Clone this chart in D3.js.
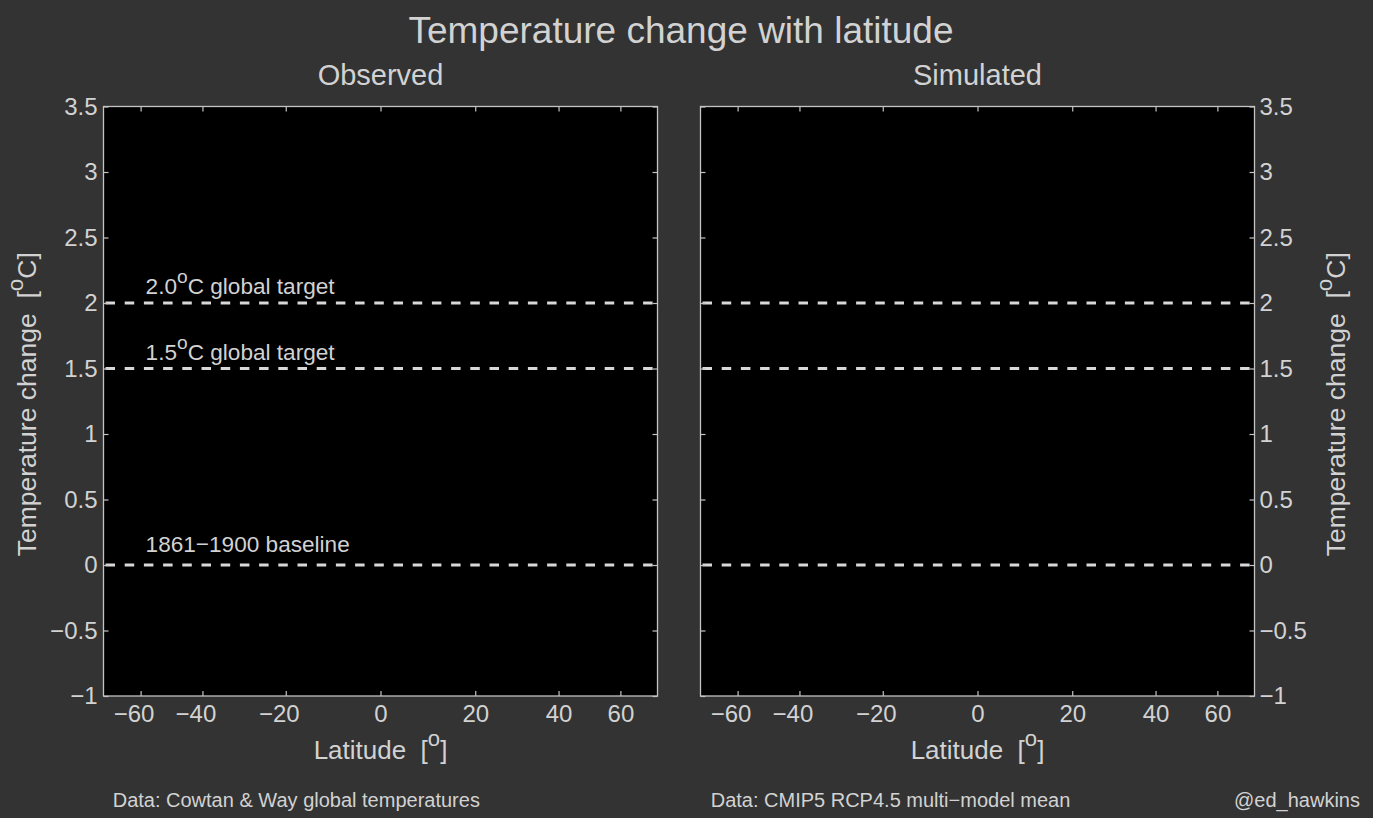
<!DOCTYPE html>
<html>
<head>
<meta charset="utf-8">
<script src="https://cdn.jsdelivr.net/npm/d3@7/dist/d3.min.js"></script>
<style>
  html, body { margin: 0; padding: 0; background: #333333; }
  svg { display: block; }
  text { font-family: "Liberation Sans", Arial, Helvetica, sans-serif; fill: #d2d2d2; white-space: pre; }
</style>
</head>
<body>
<svg id="chart" width="1373" height="818"></svg>
<script>
// ---------------- data ----------------
const chartTitle = "Temperature change with latitude";
const panelTitles = ["Observed", "Simulated"];
const footerTexts = ["Data: Cowtan & Way global temperatures", "Data: CMIP5 RCP4.5 multi\u2212model mean"];
const credit = "@ed_hawkins";
const xLabel = "Latitude  [^o]";
const yLabel = "Temperature change  [^oC]";
const xDomain = [-90, 90];          // latitude, area-weighted (sine) axis
const xTicks = [-60, -40, -20, 0, 20, 40, 60];
const xTickLabels = ["\u221260", "\u221240", "\u221220", "0", "20", "40", "60"];
const yDomain = [-1, 3.5];
const yTicks = [-1, -0.5, 0, 0.5, 1, 1.5, 2, 2.5, 3, 3.5];
const yTickLabels = ["\u22121", "\u22120.5", "0", "0.5", "1", "1.5", "2", "2.5", "3", "3.5"];
const refValues = [0, 1.5, 2.0];
const refLabels = ["1861\u22121900 baseline", "1.5^oC global target", "2.0^oC global target"];
const refLabelLat = -58;

// ---------------- layout ----------------
const svg = d3.select("#chart");
const W = 1373, H = 818;
svg.append("rect").attr("width", W).attr("height", H).attr("fill", "#333333");

const plotTop = 106.5, plotBottom = 696;
const panelX = [[103.5, 657.5], [700.5, 1254.5]];
const axisColor = "#c4c4c4";
const textColor = "#d2d2d2";

const sinDeg = d => Math.sin(d * Math.PI / 180);
const y = d3.scaleLinear().domain(yDomain).range([plotBottom, plotTop]);

// TeX-like text helper: "^o" -> raised superscript
function texText(sel, str, size) {
  const parts = str.split(/\^(\w)/);
  const supSize = size * 0.85;
  const shift = size * 0.5;
  let pending = 0;
  parts.forEach((p, i) => {
    if (p === "") return;
    if (i % 2 === 1) {
      sel.append("tspan").attr("font-size", supSize).attr("dy", pending - shift).text(p);
      pending = shift;
    } else {
      const ts = sel.append("tspan").text(p);
      if (pending) ts.attr("dy", pending);
      pending = 0;
    }
  });
  return sel;
}

// measure minus width for matlab-like centring of negative tick labels
const tmp = svg.append("text").attr("font-size", 24).text("\u2212");
const minusW = tmp.node().getComputedTextLength();
tmp.remove();

// title
svg.append("text").attr("x", 681).attr("y", 43).attr("text-anchor", "middle")
  .attr("font-size", 37).text(chartTitle);

panelTitles.forEach((title, pi) => {
  const [x0, x1] = panelX[pi];
  const xs = d3.scaleLinear().domain(xDomain.map(sinDeg)).range([x0, x1]);
  const g = svg.append("g");

  // plot background
  g.append("rect").attr("x", x0).attr("y", plotTop).attr("width", x1 - x0).attr("height", plotBottom - plotTop)
    .attr("fill", "#000000");

  // reference dashed lines
  g.selectAll("line.ref").data(refValues).join("line").attr("class", "ref")
    .attr("x1", x0 + 2).attr("x2", x1 - 1)
    .attr("y1", d => y(d)).attr("y2", d => y(d))
    .attr("stroke", "#d8d8d8").attr("stroke-width", 3).attr("stroke-dasharray", "9.5,9.7");

  // reference labels (only on the observed panel)
  if (pi === 0) {
    refValues.forEach((v, i) => {
      const t = g.append("text").attr("x", xs(sinDeg(refLabelLat))).attr("y", 0).attr("font-size", 22.6);
      texText(t, refLabels[i], 22.6);
      const bb = t.node().getBBox();
      const centre = y(v + 0.155);
      t.attr("y", centre - (bb.y + bb.height / 2));
    });
  }

  // axes
  const fmtX = d => xTickLabels[xTicks.findIndex(t => Math.abs(sinDeg(t) - d) < 1e-9)];
  const fmtY = d => yTickLabels[yTicks.indexOf(d)];
  const tickVals = xTicks.map(sinDeg);

  const axB = g.append("g").attr("transform", `translate(0,${plotBottom})`)
    .call(d3.axisBottom(xs).tickValues(tickVals).tickFormat(fmtX).tickSizeInner(-5).tickSizeOuter(0).tickPadding(9));
  const axT = g.append("g").attr("transform", `translate(0,${plotTop})`)
    .call(d3.axisTop(xs).tickValues(tickVals).tickFormat("").tickSizeInner(-5).tickSizeOuter(0));
  const axL = g.append("g").attr("transform", `translate(${x0},0)`)
    .call(d3.axisLeft(y).tickValues(yTicks).tickFormat(pi === 0 ? fmtY : "").tickSizeInner(-5).tickSizeOuter(0).tickPadding(6));
  const axR = g.append("g").attr("transform", `translate(${x1},0)`)
    .call(d3.axisRight(y).tickValues(yTicks).tickFormat(pi === 1 ? fmtY : "").tickSizeInner(-5).tickSizeOuter(0).tickPadding(5));

  [axB, axT, axL, axR].forEach(a => {
    a.select(".domain").remove();
    a.selectAll(".tick line").attr("stroke", axisColor).attr("stroke-width", 1.2);
    a.selectAll(".tick text").filter(function () { return !this.textContent; }).remove();
    a.selectAll(".tick text").attr("fill", textColor).attr("font-size", 24)
      .attr("font-family", '"Liberation Sans", Arial, Helvetica, sans-serif');
  });
  axB.selectAll(".tick text").attr("dy", "0.71em")
    .attr("dx", function () { return this.textContent.startsWith("\u2212") ? -minusW / 2 : 0; });

  // box
  g.append("rect").attr("x", x0).attr("y", plotTop).attr("width", x1 - x0).attr("height", plotBottom - plotTop)
    .attr("fill", "none").attr("stroke", axisColor).attr("stroke-width", 1.3);

  // panel title
  g.append("text").attr("x", (x0 + x1) / 2).attr("y", 85).attr("text-anchor", "middle")
    .attr("font-size", 29).text(title);

  // x label
  texText(g.append("text").attr("x", (x0 + x1) / 2).attr("y", 759).attr("text-anchor", "middle")
    .attr("font-size", 26), xLabel, 26);

  // y label
  const yx = pi === 0 ? 36 : 1345;
  texText(g.append("text").attr("transform", `translate(${yx},${(plotTop + plotBottom) / 2 + 3}) rotate(-90)`)
    .attr("text-anchor", "middle").attr("font-size", 26.5), yLabel, 26.5);

  // footer
  g.append("text").attr("x", pi === 0 ? 112.7 : 710.7).attr("y", 807).attr("font-size", 20)
    .text(footerTexts[pi]);
});

svg.append("text").attr("x", 1360).attr("y", 807).attr("text-anchor", "end").attr("font-size", 20).text(credit);
</script>
</body>
</html>
